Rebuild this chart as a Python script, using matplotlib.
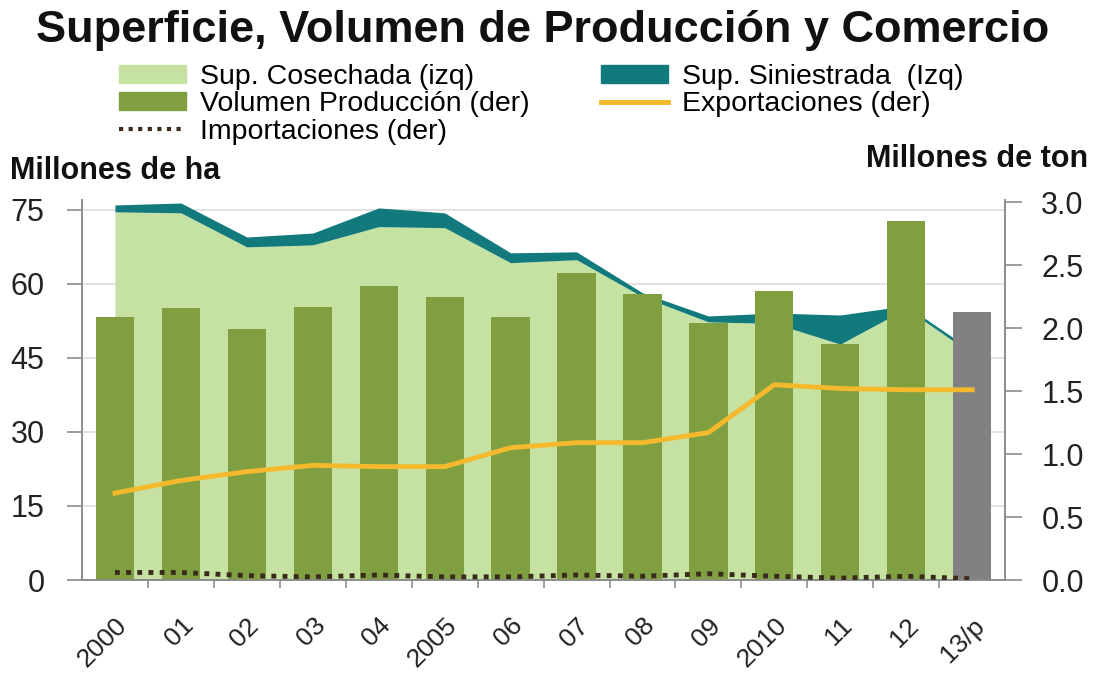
import matplotlib.pyplot as plt
import numpy as np
from matplotlib.patches import Patch
from matplotlib.lines import Line2D

plt.rcParams['font.family'] = ['Liberation Sans', 'DejaVu Sans']

YEARS = ["2000", "01", "02", "03", "04", "2005", "06", "07", "08", "09", "2010", "11", "12", "13/p"]

# millones de ha (izq)
SUP_SEMBRADA = [76.0, 76.4, 69.5, 70.3, 75.4, 74.4, 66.3, 66.5, 58.2, 53.5, 54.1, 53.7, 55.6, 46.5]
SUP_COSECHADA = [74.6, 74.4, 67.5, 67.9, 71.6, 71.4, 64.3, 64.9, 57.4, 52.3, 52.0, 47.8, 55.0, 45.8]

# millones de ton (der)
PRODUCCION = [2.09, 2.16, 1.99, 2.17, 2.33, 2.25, 2.09, 2.44, 2.27, 2.04, 2.29, 1.87, 2.85, 2.13]
EXPORTACIONES = [0.69, 0.79, 0.86, 0.91, 0.90, 0.90, 1.05, 1.09, 1.09, 1.17, 1.55, 1.52, 1.51, 1.51]
IMPORTACIONES = [0.06, 0.06, 0.035, 0.025, 0.04, 0.025, 0.025, 0.04, 0.03, 0.05, 0.03, 0.015, 0.03, 0.01]

LIGHT = "#c6e2a2"
TEAL = "#127a7c"
OLIVE = "#7f9f41"
GREY_BAR = "#818181"
YELLOW = "#f4b92c"
DOTS = "#3a2a1c"
SPINE = "#8c8c8c"


def main() -> None:
    fig = plt.figure(figsize=(10.99, 6.78), dpi=100)
    ax = fig.add_axes([0.0746, 0.1445, 0.840, 0.5605])
    ax2 = ax.twinx()

    x = np.arange(len(YEARS))

    ax.fill_between(x, 0, SUP_COSECHADA, color=LIGHT, lw=0, zorder=2)
    ax.fill_between(x, SUP_COSECHADA, SUP_SEMBRADA, color=TEAL, lw=0, zorder=2)
    ax.set_xlim(-0.5, len(YEARS) - 0.5)
    ax.set_ylim(0, 77.0)
    ax.set_yticks([0, 15, 30, 45, 60, 75])
    ax.yaxis.grid(True, color="#dddddd", lw=1.2)
    ax.set_axisbelow(True)

    colors = [OLIVE] * (len(YEARS) - 1) + [GREY_BAR]
    ax2.bar(x, PRODUCCION, width=0.58, color=colors, zorder=2)
    ax2.plot(x, EXPORTACIONES, color=YELLOW, lw=3.5, zorder=3)
    ax2.plot(x, IMPORTACIONES, color=DOTS, lw=3.5, ls=(0, (1, 1.3)), zorder=4)
    ax2.set_ylim(0, 3.016)
    ax2.set_yticks([0, 0.5, 1.0, 1.5, 2.0, 2.5, 3.0])
    ax2.set_yticklabels(["0.0", "0.5", "1.0", "1.5", "2.0", "2.5", "3.0"])
    ax2.set_xlim(-0.5, len(YEARS) - 0.5)

    ax.set_xticks(x)
    ax.set_xticklabels(YEARS, rotation=45, ha="right", rotation_mode="anchor", fontsize=19, color="#222222")
    ax.set_xticks(x[:-1] + 0.5, minor=True)
    ax.tick_params(axis="x", which="major", length=0, pad=24)
    ax.tick_params(axis="x", which="minor", length=6, color=SPINE, width=1.2)
    ax.tick_params(axis="y", length=11, color=SPINE, width=1.2, labelsize=22, labelcolor="#222222", pad=16)
    ax2.tick_params(axis="y", length=12, color=SPINE, width=1.2, labelsize=22, labelcolor="#222222", pad=14)

    for a in (ax, ax2):
        a.spines["top"].set_visible(False)
        for s in ("left", "right", "bottom"):
            a.spines[s].set_color(SPINE)
            a.spines[s].set_linewidth(1.2)

    fig.text(0.494, 0.955, "Superficie, Volumen de Producción y Comercio",
             ha="center", va="center", fontsize=32.5, fontweight="bold", color="#111111")
    fig.text(0.009, 0.748, "Millones de ha", ha="left", va="center",
             fontsize=22, fontweight="bold", color="#111111")
    fig.text(0.990, 0.766, "Millones de ton", ha="right", va="center",
             fontsize=22, fontweight="bold", color="#111111")

    handles = [
        Patch(color=LIGHT, label="Sup. Cosechada (izq)"),
        Patch(color=OLIVE, label="Volumen Producción (der)"),
        Line2D([], [], color=DOTS, lw=3, ls=(0, (1, 1.3)), label="Importaciones (der)"),
        Patch(color=TEAL, label="Sup. Siniestrada  (Izq)"),
        Line2D([], [], color=YELLOW, lw=3.5, label="Exportaciones (der)"),
    ]
    fig.legend(handles=handles, loc="upper left", bbox_to_anchor=(0.095, 0.927),
               ncol=2, frameon=False, fontsize=20.5, handlelength=2.35, handleheight=0.6,
               handletextpad=0.5, labelspacing=0.05, columnspacing=2.5, borderpad=0)

    fig.savefig("out.png", dpi=100)


if __name__ == "__main__":
    main()
